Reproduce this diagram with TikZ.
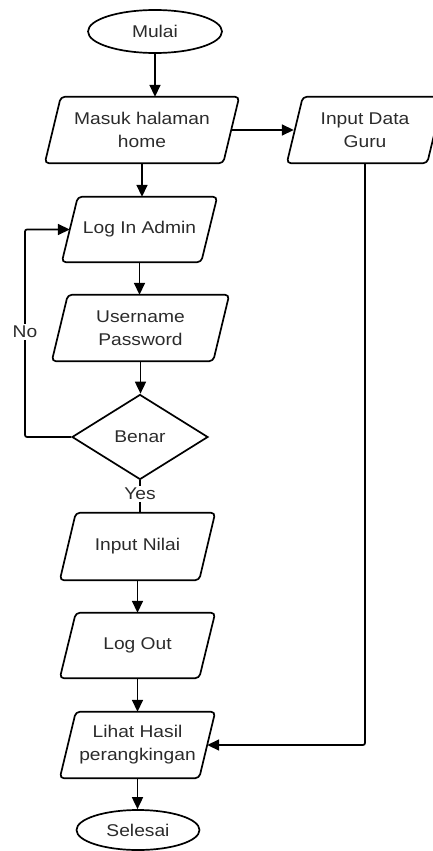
\documentclass[tikz,border=0pt]{standalone}
\usepackage{fontspec}
\setmainfont{Liberation Sans}[FakeStretch=1.13]
\usetikzlibrary{arrows.meta,shapes.geometric}
\definecolor{txt}{HTML}{2B2B2B}
\newcommand\paradraw[1]{\draw[box] ([xshift=8pt]#1.north west) -- ([xshift=8pt]#1.north east) -- ([xshift=-8pt]#1.south east) -- ([xshift=-8pt]#1.south west) -- cycle;}
\begin{document}
\begin{tikzpicture}[x=1pt,y=-1pt,
  box/.style={line width=1.7pt, rounded corners=4pt, line join=round},
  io/.style={shape=rectangle, inner sep=0pt, align=center, text=txt, font=\fontsize{17}{23}\selectfont},
  term/.style={shape=ellipse, draw, line width=1.7pt, inner sep=0pt, text=txt, font=\fontsize{17}{23}\selectfont},
  dec/.style={shape=diamond, draw, line width=1.7pt, inner sep=0pt, text=txt, font=\fontsize{17}{23}\selectfont},
  arr/.style={line width=1.7pt, -{Triangle[length=12pt,width=11pt]}},
  lin/.style={line width=1.7pt},
  lbl/.style={fill=white, inner sep=2pt, text=txt, font=\fontsize{17}{23}\selectfont}]
\useasboundingbox (0,0) rectangle (433,851);
% nodes
\node[term, minimum width=134pt, minimum height=43pt] (mulai) at (155,31.5) {Mulai};
\node[io, minimum width=178pt, minimum height=66pt] (masuk) at (142,130) {Masuk halaman\\home};
\node[io, minimum width=140pt, minimum height=66pt] (guru) at (365,130) {Input Data\\Guru};
\node[io, minimum width=139pt, minimum height=65pt] (login) at (139.5,229.5) {Log In Admin};
\node[io, minimum width=161pt, minimum height=66pt] (user) at (140.5,328) {Username\\Password};
\node[dec, minimum width=136pt, minimum height=85pt] (benar) at (140,437) {Benar};
\node[io, minimum width=139pt, minimum height=67pt] (nilai) at (137.5,546.5) {Input Nilai};
\node[io, minimum width=139pt, minimum height=65pt] (logout) at (137.5,645.5) {Log Out};
\node[io, minimum width=139pt, minimum height=66pt] (lihat) at (137.5,745) {Lihat Hasil\\perangkingan};
\node[term, minimum width=123pt, minimum height=40pt] (selesai) at (138,830) {Selesai};
\paradraw{masuk}
\paradraw{guru}
\paradraw{login}
\paradraw{user}
\paradraw{nilai}
\paradraw{logout}
\paradraw{lihat}
\coordinate (noleft) at (25,437);
% connectors
\draw[arr] (mulai.south) -- (mulai.south |- masuk.north);
\draw[arr] (masuk.east) -- ([xshift=-1pt]guru.west);
\draw[arr] (masuk.south) -- (masuk.south |- login.north);
\draw[arr] (login.south) -- (login.south |- user.north);
\draw[arr] (user.south) -- (user.south |- benar.north);
\draw[lin] (benar.south) -- (benar.south |- nilai.north) node[lbl, pos=0.42] (yes) {Yes};
\draw[arr] (nilai.south) -- (nilai.south |- logout.north);
\draw[arr] (logout.south) -- (logout.south |- lihat.north);
\draw[arr] (lihat.south) -- (lihat.south |- selesai.north);
\draw[arr, rounded corners=2pt] (guru.south) |- (lihat.east);
\draw[arr, rounded corners=2pt] (benar.west) -- (noleft) |- (login.west);
\node[lbl] (no) at (25,332) {No};
\end{tikzpicture}
\end{document}
